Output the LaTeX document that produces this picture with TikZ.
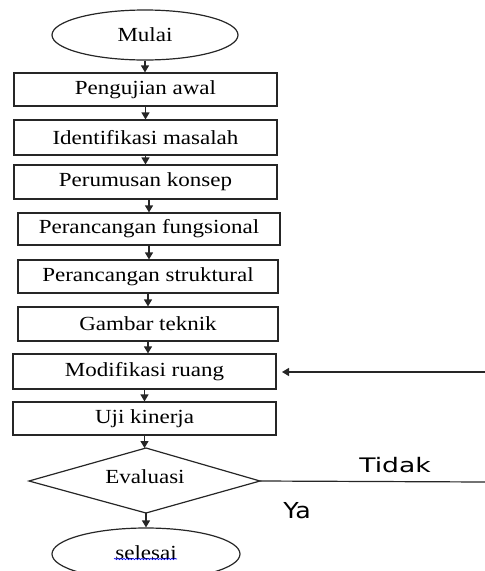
\documentclass[tikz,border=0pt]{standalone}
\usepackage{fontspec}
\setmainfont{Liberation Serif}
\newfontfamily\lblfont{DejaVu Sans}
\usetikzlibrary{shapes.geometric,arrows.meta,calc,decorations.pathmorphing}
\newcommand{\stx}[1]{\scalebox{1.15}[1]{\fontsize{20}{22}\selectfont #1}}
\begin{document}
\begin{tikzpicture}[x=1pt,y=-1pt,
  line/.style={draw=black!85, line width=1.2pt},
  arr/.style={line, -{Triangle[width=8pt,length=7pt]}},
  procbox/.style={line, rectangle, inner sep=0pt, anchor=center},
  term/.style={line, ellipse, inner sep=0pt, minimum width=186pt, minimum height=50pt},
  lbl/.style={inner sep=0pt, font=\lblfont\fontsize{20}{22}\selectfont}
]
\useasboundingbox (0,0) rectangle (485,571);
\clip (0,0) rectangle (485,571);
\node[term] (mulai) at (145,35) {\stx{Mulai}};
\node[procbox, minimum width=263pt, minimum height=33pt] (b1) at (145.5,89.5) {\stx{Pengujian awal}};
\node[procbox, minimum width=263pt, minimum height=35pt] (b2) at (145.5,137.5) {\stx{Identifikasi masalah}};
\node[procbox, minimum width=263pt, minimum height=34pt] (b3) at (145.5,182) {\stx{Perumusan konsep}};
\node[procbox, minimum width=262pt, minimum height=32pt] (b4) at (149,229) {\stx{Perancangan fungsional}};
\node[procbox, minimum width=260pt, minimum height=33pt] (b5) at (148,276.5) {\stx{Perancangan struktural}};
\node[procbox, minimum width=260pt, minimum height=34pt] (b6) at (148,324) {\stx{Gambar teknik}};
\node[procbox, minimum width=263pt, minimum height=35pt] (b7) at (144.5,371.5) {\stx{Modifikasi ruang}};
\node[procbox, minimum width=263pt, minimum height=33pt] (b8) at (144.5,418.5) {\stx{Uji kinerja}};

% decision diamond
\coordinate (evt) at (146,448);
\coordinate (evb) at (146,513);
\coordinate (evl) at (29,481);
\coordinate (evr) at (260,481);
\draw[line, line join=miter] (evt) -- (evr) -- (evb) -- (evl) -- cycle;
\node[inner sep=0pt] (eval) at (145,477) {\stx{Evaluasi}};

\node[term, minimum width=188pt, minimum height=52pt] (sel) at (146,554) {\raisebox{2pt}{\stx{selesai}}};
\draw[blue, line width=0.6pt, decorate, decoration={snake, amplitude=0.7pt, segment length=3pt}]
  ($(sel.center)+(-32,5)$) -- ($(sel.center)+(31,5)$);

\coordinate (tidakend) at (485,482);
\coordinate (loopstart) at (485,372);
\coordinate (loopend) at (282,372);

\draw[arr] (mulai.south) -- (mulai.south |- b1.north);
\draw[arr] (b1.south) -- (b1.south |- b2.north);
\draw[arr] (b2.south) -- (b2.south |- b3.north);
\draw[arr] ([xshift=3.5pt]b3.south) -- ([xshift=3.5pt]b3.south |- b4.north);
\draw[arr] (b4.south) -- (b4.south |- b5.north);
\draw[arr] (b5.south) -- (b5.south |- b6.north);
\draw[arr] (b6.south) -- (b6.south |- b7.north);
\draw[arr] (b7.south) -- (b7.south |- b8.north);
\draw[arr] (b8.south) -- (b8.south |- evt);
\draw[arr] (evb) -- (evb |- sel.north);
\draw[line] (evr) -- (tidakend);
\draw[arr] (loopstart) -- (loopend);

\node[lbl] (tidak) at (395,465) {\scalebox{1.33}[1]{Tidak}};
\node[lbl, font=\lblfont\fontsize{22}{24}\selectfont] (ya) at (297,511) {\scalebox{1.15}[1]{Ya}};
\end{tikzpicture}
\end{document}
